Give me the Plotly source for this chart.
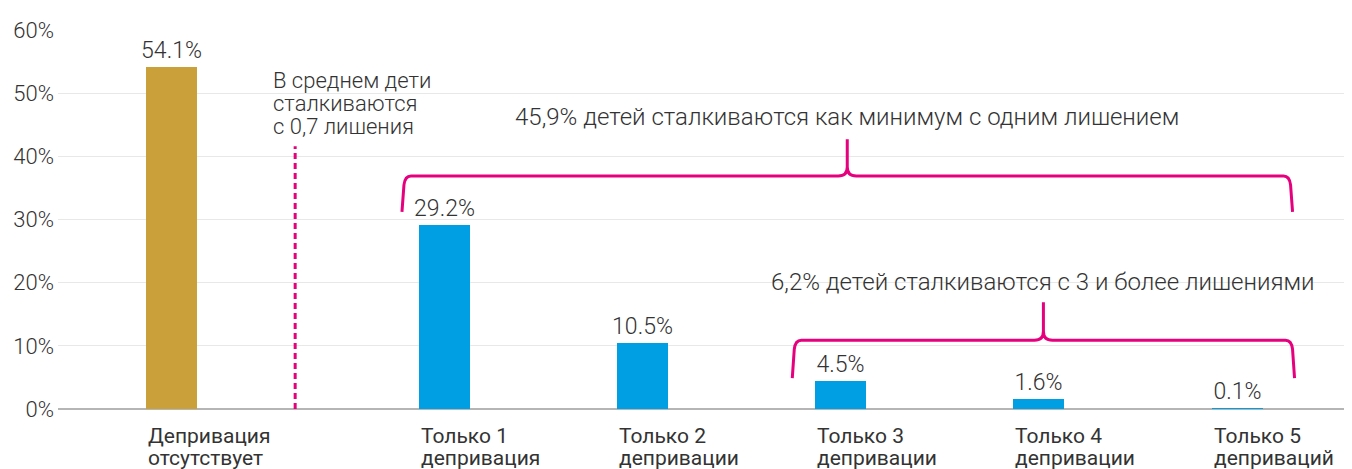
import plotly.graph_objects as go

cat_line1 = ["Депривация", "Только 1", "Только 2", "Только 3", "Только 4", "Только 5"]
cat_line2 = ["отсутствует", "депривация", "депривации", "депривации", "депривации", "деприваций"]
values = [54.1, 29.2, 10.5, 4.5, 1.6, 0.1]
value_labels = ["54.1%", "29.2%", "10.5%", "4.5%", "1.6%", "0.1%"]
bar_colors = ["#C9A03A", "#009FE3", "#009FE3", "#009FE3", "#009FE3", "#009FE3"]
y_ticks = [0, 10, 20, 30, 40, 50, 60]
y_tick_labels = ["0%", "10%", "20%", "30%", "40%", "50%", "60%"]

avg_lines = ["В среднем дети", "сталкиваются", "с 0,7 лишения"]
brace1_text = "45,9% детей сталкиваются как минимум с одним лишением"
brace2_text = "6,2% детей сталкиваются с 3 и более лишениями"

FIRST_GAP = 1.38
x_pos = [0.0] + [FIRST_GAP + i for i in range(len(values) - 1)]
BAR_W = 0.257

# page body has an 8px margin, so the figure is 8px smaller than the window
W, H = 1344, 461
ML, MR, MT, MB = 50, 0, 22, 60
X_RANGE = [-0.571, 5.96]
Y_RANGE = [0, 60]
ux = (X_RANGE[1] - X_RANGE[0]) / (W - ML - MR)
uy = (Y_RANGE[1] - Y_RANGE[0]) / (H - MT - MB)

MAGENTA = "#E6007E"
TXT = "#333333"
FONT = "Roboto"
LINE_H = 22
AVG_LINE_H = 23

fig = go.Figure()
fig.add_trace(go.Bar(
    x=x_pos, y=values, width=BAR_W, marker=dict(color=bar_colors, line=dict(width=0)),
    text=value_labels, textposition="outside", constraintext="none", cliponaxis=False,
    textfont=dict(family=FONT, size=23, color=TXT, weight=300), hoverinfo="skip",
))


def brace(x0, x1, xc, yb, yh, yp):
    r = 9
    p = [
        f"M {x0},{yb}",
        f"L {x0 + 2*ux},{yh - r*uy}",
        f"Q {x0 + 3*ux},{yh} {x0 + r*ux},{yh}",
        f"L {xc - r*ux},{yh}",
        f"Q {xc},{yh} {xc},{yh + r*uy}",
        f"L {xc},{yp}",
        f"L {xc},{yh + r*uy}",
        f"Q {xc},{yh} {xc + r*ux},{yh}",
        f"L {x1 - r*ux},{yh}",
        f"Q {x1 - 3*ux},{yh} {x1 - 2*ux},{yh - r*uy}",
        f"L {x1},{yb}",
    ]
    return " ".join(p)


b1 = dict(x0=x_pos[1] - 0.215, x1=x_pos[5] + 0.28, yb=31.2, yh=36.9, yp=42.7)
b1["xc"] = (b1["x0"] + b1["x1"]) / 2
fig.add_shape(type="path", xref="x", yref="y",
              path=brace(b1["x0"], b1["x1"], b1["xc"], b1["yb"], b1["yh"], b1["yp"]),
              line=dict(color=MAGENTA, width=3))
b2 = dict(x0=x_pos[3] - 0.245, x1=x_pos[5] + 0.29, yb=4.9, yh=10.9, yp=16.9)
b2["xc"] = (b2["x0"] + b2["x1"]) / 2
fig.add_shape(type="path", xref="x", yref="y",
              path=brace(b2["x0"], b2["x1"], b2["xc"], b2["yb"], b2["yh"], b2["yp"]),
              line=dict(color=MAGENTA, width=3))

AVG_X = x_pos[0] + 0.626
fig.add_shape(type="line", xref="x", yref="y", x0=AVG_X, x1=AVG_X, y0=0, y1=41.6,
              line=dict(color=MAGENTA, width=3, dash="6px,4px"))

for i, ln in enumerate(avg_lines):
    fig.add_annotation(x=AVG_X - 0.12, y=48.3, xref="x", yref="y", text=ln, showarrow=False,
                       xanchor="left", yanchor="middle", align="left",
                       yshift=AVG_LINE_H * (1 - i),
                       font=dict(family=FONT, size=22, color=TXT, weight=300))
fig.add_annotation(x=b1["xc"], y=46.2, xref="x", yref="y", text=brace1_text,
                   showarrow=False, xanchor="center", yanchor="middle",
                   font=dict(family=FONT, size=24, color=TXT, weight=300))
fig.add_annotation(x=b2["xc"], y=20.1, xref="x", yref="y", text=brace2_text,
                   showarrow=False, xanchor="center", yanchor="middle",
                   font=dict(family=FONT, size=24, color=TXT, weight=300))

for xp, l1, l2 in zip(x_pos, cat_line1, cat_line2):
    for j, ln in enumerate([l1, l2]):
        fig.add_annotation(x=xp - BAR_W / 2, y=0, xref="x", yref="paper", text=ln,
                           showarrow=False, xanchor="left", yanchor="middle", align="left",
                           yshift=-27 - LINE_H * j,
                           font=dict(family=FONT, size=21, color=TXT))

fig.update_layout(
    width=W, height=H, margin=dict(l=ML, r=MR, t=MT, b=MB),
    plot_bgcolor="white", paper_bgcolor="white", showlegend=False, bargap=0,
    xaxis=dict(range=X_RANGE, showticklabels=False, showgrid=False, zeroline=False,
               showline=False, ticks=""),
    yaxis=dict(range=Y_RANGE, tickvals=y_ticks, ticktext=y_tick_labels, showgrid=True,
               gridcolor="#E8E8E8", gridwidth=1, zeroline=True, zerolinecolor="#B5B5B5",
               zerolinewidth=2, showline=False, ticks="", ticklabelstandoff=3,
               tickfont=dict(family=FONT, size=22, color=TXT, weight=300)),
)

fig.write_html("out.html")
